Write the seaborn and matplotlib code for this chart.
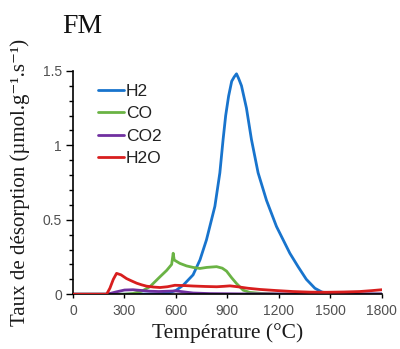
import pandas as pd
import matplotlib
matplotlib.use('Agg')
import matplotlib.pyplot as plt
import seaborn as sns
from matplotlib.ticker import MultipleLocator

# H2
t_h2 = [0, 300, 500, 560, 600, 642, 700, 740, 778, 827, 856, 875, 890, 907, 925, 940, 953,
        965, 982, 1011, 1040, 1079, 1128, 1186, 1264, 1312, 1360, 1410, 1450, 1497, 1600, 1800]
h2 = [0, 0, 0.002, 0.01, 0.025, 0.06, 0.13, 0.23, 0.365, 0.59, 0.815, 1.04, 1.2, 1.33, 1.43, 1.46, 1.48,
      1.45, 1.40, 1.25, 1.04, 0.815, 0.63, 0.455, 0.275, 0.185, 0.1, 0.04, 0.015, 0.003, 0, 0]

# CO
t_co = [0, 300, 350, 400, 448, 507, 546, 575, 584, 590, 604, 623, 662, 700, 740, 780, 837,
        870, 895, 925, 953, 992, 1030, 1100, 1200, 1800]
co = [0, 0, 0.005, 0.02, 0.05, 0.117, 0.16, 0.2, 0.275, 0.23, 0.22, 0.207, 0.19, 0.18, 0.173,
      0.18, 0.185, 0.175, 0.155, 0.11, 0.072, 0.027, 0.012, 0.005, 0, 0]

# CO2
t_co2 = [0, 200, 250, 300, 350, 400, 450, 500, 550, 600, 650, 700, 800, 1000, 1800]
co2 = [0, 0, 0.015, 0.028, 0.03, 0.025, 0.02, 0.018, 0.02, 0.022, 0.015, 0.008, 0.004, 0.002, 0.002]

# H2O
t_h2o = [0, 196, 215, 235, 254, 280, 312, 340, 371, 400, 429, 470, 507, 550, 594, 650, 700,
         770, 838, 880, 915, 960, 1020, 1090, 1180, 1282, 1380, 1477, 1580, 1671, 1740, 1800]
h2o = [0, 0, 0.04, 0.1, 0.14, 0.13, 0.105, 0.09, 0.074, 0.063, 0.054, 0.048, 0.045, 0.05, 0.06,
       0.058, 0.055, 0.052, 0.05, 0.053, 0.056, 0.05, 0.04, 0.032, 0.025, 0.018, 0.014, 0.013,
       0.015, 0.018, 0.024, 0.03]

gases = ['H2', 'CO', 'CO2', 'H2O']
colors = ['#1874cd', '#6ab344', '#7030a0', '#d81e1e']

df = pd.concat([
    pd.DataFrame({'T': t, 'rate': v, 'gas': g})
    for t, v, g in zip([t_h2, t_co, t_co2, t_h2o], [h2, co, co2, h2o], gases)
])

sns.set_theme(style='white')
fig = plt.figure(figsize=(4.0, 3.49), dpi=100)
ax = fig.add_axes([0.1825, 0.157, 0.772, 0.64])

# H2O drawn on top like the reference
for g, c in zip(gases, colors):
    d = df[df['gas'] == g]
    sns.lineplot(data=d, x='T', y='rate', color=c, lw=2, ax=ax,
                 estimator=None, sort=False, label=g, zorder=3 if g == 'H2O' else 2)

ax.set_xlim(0, 1800)
ax.set_ylim(0, 1.5)
ax.set_xticks([0, 300, 600, 900, 1200, 1500, 1800])
ax.set_yticks([0, 0.5, 1, 1.5])
ax.set_yticklabels(['0', '0.5', '1', '1.5'])
ax.yaxis.set_minor_locator(MultipleLocator(0.1))
ax.tick_params(axis='y', which='major', left=True, length=5, width=1, color='black',
               labelsize=10, labelcolor='#505050', pad=3)
ax.tick_params(axis='y', which='minor', left=True, length=3, width=1, color='black')
ax.tick_params(axis='x', bottom=True, length=3, width=1, color='black',
               labelsize=10, labelcolor='#505050', pad=4)
for lab in ax.get_xticklabels() + ax.get_yticklabels():
    lab.set_family(['Liberation Sans', 'DejaVu Sans'])

for s in ['top', 'right']:
    ax.spines[s].set_visible(False)
for s in ['left', 'bottom']:
    ax.spines[s].set_color('black')
    ax.spines[s].set_linewidth(1.2)

serif = ['Liberation Serif', 'DejaVu Serif']
ax.set_xlabel('Température (°C)', family=serif, fontsize=15.5, color='#1a1a1a', labelpad=4)
ax.set_ylabel('Taux de désorption (µmol.g⁻¹.s⁻¹)', family=serif, fontsize=15,
              color='#1a1a1a', labelpad=9)
fig.text(0.155, 0.925, 'FM', family=serif, fontsize=20, color='#111111', va='center')

leg = ax.legend(loc='upper left', frameon=False, handlelength=1.5, handletextpad=0.1,
                labelspacing=0.4, bbox_to_anchor=(0.03, 1.01),
                prop={'family': ['Liberation Sans', 'DejaVu Sans'], 'size': 12.5})
for t in leg.get_texts():
    t.set_color('#222222')

fig.savefig('out.png', dpi=100)
